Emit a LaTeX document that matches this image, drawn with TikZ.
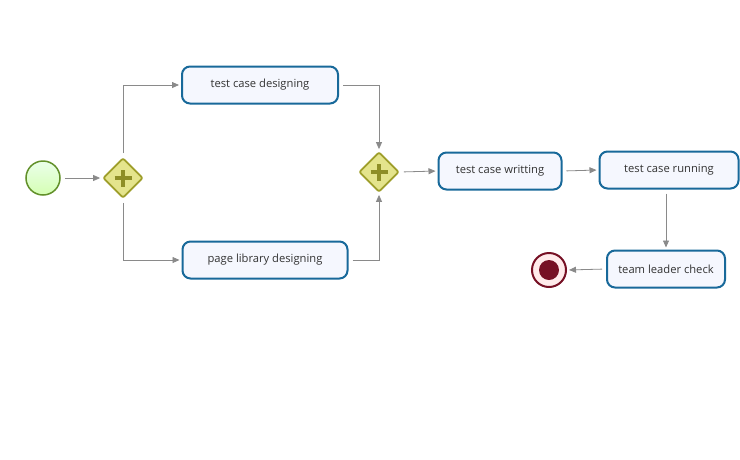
\documentclass[tikz,border=0pt]{standalone}
\usepackage{fontspec}
\setmainfont{Open Sans}
\usetikzlibrary{shapes.geometric,arrows.meta}
\definecolor{taskblue}{HTML}{18699A}
\definecolor{taskfill}{HTML}{F5F7FE}
\definecolor{gateolive}{HTML}{9E9E2A}
\definecolor{gatefill}{HTML}{E4E48C}
\definecolor{startgreen}{HTML}{62902A}
\definecolor{endred}{HTML}{761024}
\definecolor{flowgray}{HTML}{8A8A8A}
\begin{document}
\begin{tikzpicture}[x=1pt,y=-1pt,
    task/.style={draw=taskblue,fill=taskfill,line width=2pt,rounded corners=8pt,
                 minimum height=37pt,font=\fontsize{11.2}{13}\selectfont,text=black!80},
    gate/.style={diamond,draw=gateolive,fill=gatefill,line width=1.8pt,
                 minimum size=40pt,inner sep=0pt,rounded corners=2pt},
    flow/.style={draw=flowgray,line width=0.8pt,-{Triangle[length=7pt,width=6pt]},
                 shorten >=2pt,shorten <=4pt}
  ]
  \useasboundingbox (0,0) rectangle (740,459);

  % events
  \node[circle,draw=startgreen,line width=1.5pt,minimum size=34pt,
        top color=green!8!white,bottom color=green!40!lime!30!white] (start) at (43,178) {};
  \node[circle,draw=endred,line width=2pt,minimum size=34pt,fill=red!8!white] (stop) at (549,270) {};
  \fill[endred] (stop.center) circle (10pt);

  % gateways
  \node[gate] (fork) at (123,178) {};
  \node[gate] (join) at (379,172) {};
  \foreach \g in {fork,join}{
    \draw[gateolive!90!black,line width=4.5pt] ([xshift=-8.5pt]\g.center) -- ([xshift=8.5pt]\g.center);
    \draw[gateolive!90!black,line width=4.5pt] ([yshift=-8.5pt]\g.center) -- ([yshift=8.5pt]\g.center);
  }

  % tasks
  \node[task,minimum width=156pt] (design) at (260,85) {test case designing};
  \node[task,minimum width=165pt] (library) at (265,260) {page library designing};
  \node[task,minimum width=123pt] (write) at (500,171) {test case writting};
  \node[task,minimum width=139pt] (run) at (669,170) {test case running};
  \node[task,minimum width=118pt] (check) at (666,269) {team leader check};

  % sequence flows
  \draw[flow] (start) -- (fork);
  \draw[flow] (fork.north) |- (design.west);
  \draw[flow] (fork.south) |- (library.west);
  \draw[flow] (design.east) -| (join.north);
  \draw[flow] (library.east) -| (join.south);
  \draw[flow] (join.east) -- (write.west);
  \draw[flow] (write.east) -- (run.west);
  \draw[flow] (check.north |- run.south) -- (check.north);
  \draw[flow] (check.west) -- (stop.east);
\end{tikzpicture}
\end{document}
